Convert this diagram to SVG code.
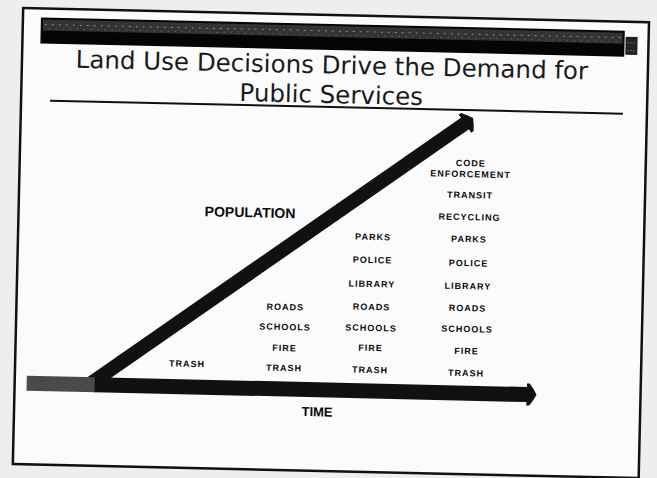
<svg xmlns="http://www.w3.org/2000/svg" width="657" height="478" viewBox="0 0 657 478">
  <defs>
    <style>
      .title { font-family: "DejaVu Sans", "Liberation Sans", sans-serif; font-size: 24.5px; fill: #1a1a1a; text-anchor: middle; }
      .lbl { font-family: "Liberation Sans", Arial, sans-serif; font-weight: bold; font-size: 9px; letter-spacing: 1px; fill: #0a0a0a; text-anchor: middle; }
      .big { font-family: "Liberation Sans", Arial, sans-serif; font-weight: bold; fill: #0a0a0a; text-anchor: middle; }
      .bar { fill: none; stroke: #111; }
    </style>
    <marker id="head" markerUnits="userSpaceOnUse" viewBox="0 -12 12 24" markerWidth="12" markerHeight="24" refX="1" refY="0" orient="auto">
      <path d="M0,-11 L3,-11 Q7,-6 10,0 Q7,6 3,11 L0,11 Z" fill="#111"/>
    </marker>
  </defs>
  <rect x="0" y="0" width="657" height="478" fill="#eeeeee"/>
  <g transform="rotate(1.3 328 239)">
    <g id="slide-frame">
      <rect x="18" y="15" width="626" height="456" fill="#fbfbfb" stroke="#111" stroke-width="2.5"/>
    </g>
    <g id="header-bar">
      <rect x="36" y="24" width="584" height="26" fill="#050505"/>
      <rect x="38" y="26" width="580" height="11" fill="#333"/>
      <line x1="40" y1="31" x2="616" y2="31" stroke="#8a8a8a" stroke-width="1" stroke-dasharray="2 5"/>
      <line x1="44" y1="35" x2="616" y2="35" stroke="#777" stroke-width="1" stroke-dasharray="1 6"/>
      <rect x="621" y="30" width="12" height="18" fill="#222"/>
      <line x1="623" y1="36" x2="632" y2="36" stroke="#aaa" stroke-width="1" stroke-dasharray="1 2"/>
      <line x1="623" y1="44" x2="632" y2="44" stroke="#aaa" stroke-width="1" stroke-dasharray="1 2"/>
    </g>
    <g id="title">
      <text class="title" x="328" y="73.5">Land Use Decisions Drive the Demand for</text>
      <text class="title" x="328" y="103">Public Services</text>
      <line x1="47" y1="107" x2="620" y2="107" stroke="#111" stroke-width="2"/>
    </g>
    <g id="connectors">
      <line id="population-arrow" class="bar" x1="95" y1="388" x2="463" y2="120" stroke-width="14" marker-end="url(#head)"/>
      <rect x="30" y="382.5" width="70" height="15" fill="#4a4a4a"/>
      <line id="time-arrow" class="bar" x1="98" y1="390" x2="531" y2="390" stroke-width="15" marker-end="url(#head)"/>
    </g>
    <g id="population">
      <text class="big" x="249.5" y="219" font-size="14">POPULATION</text>
    </g>
    <g id="time">
      <text class="big" x="321" y="416.5" font-size="13">TIME</text>
    </g>
    <g id="stage-1">
      <text class="lbl" x="190" y="370">TRASH</text>
    </g>
    <g id="stage-2">
      <text class="lbl" x="287" y="311">ROADS</text>
      <text class="lbl" x="287" y="331">SCHOOLS</text>
      <text class="lbl" x="287" y="352">FIRE</text>
      <text class="lbl" x="287" y="372">TRASH</text>
    </g>
    <g id="stage-3">
      <text class="lbl" x="373" y="239">PARKS</text>
      <text class="lbl" x="373" y="262">POLICE</text>
      <text class="lbl" x="373" y="286">LIBRARY</text>
      <text class="lbl" x="373" y="309">ROADS</text>
      <text class="lbl" x="373" y="330">SCHOOLS</text>
      <text class="lbl" x="373" y="350">FIRE</text>
      <text class="lbl" x="373" y="372">TRASH</text>
    </g>
    <g id="stage-4">
      <text class="lbl" x="469" y="163">CODE</text>
      <text class="lbl" x="469" y="174">ENFORCEMENT</text>
      <text class="lbl" x="469" y="195">TRANSIT</text>
      <text class="lbl" x="469" y="217">RECYCLING</text>
      <text class="lbl" x="469" y="239">PARKS</text>
      <text class="lbl" x="469" y="263">POLICE</text>
      <text class="lbl" x="469" y="286">LIBRARY</text>
      <text class="lbl" x="469" y="308">ROADS</text>
      <text class="lbl" x="469" y="329">SCHOOLS</text>
      <text class="lbl" x="469" y="351">FIRE</text>
      <text class="lbl" x="469" y="373">TRASH</text>
    </g>
  </g>
</svg>
